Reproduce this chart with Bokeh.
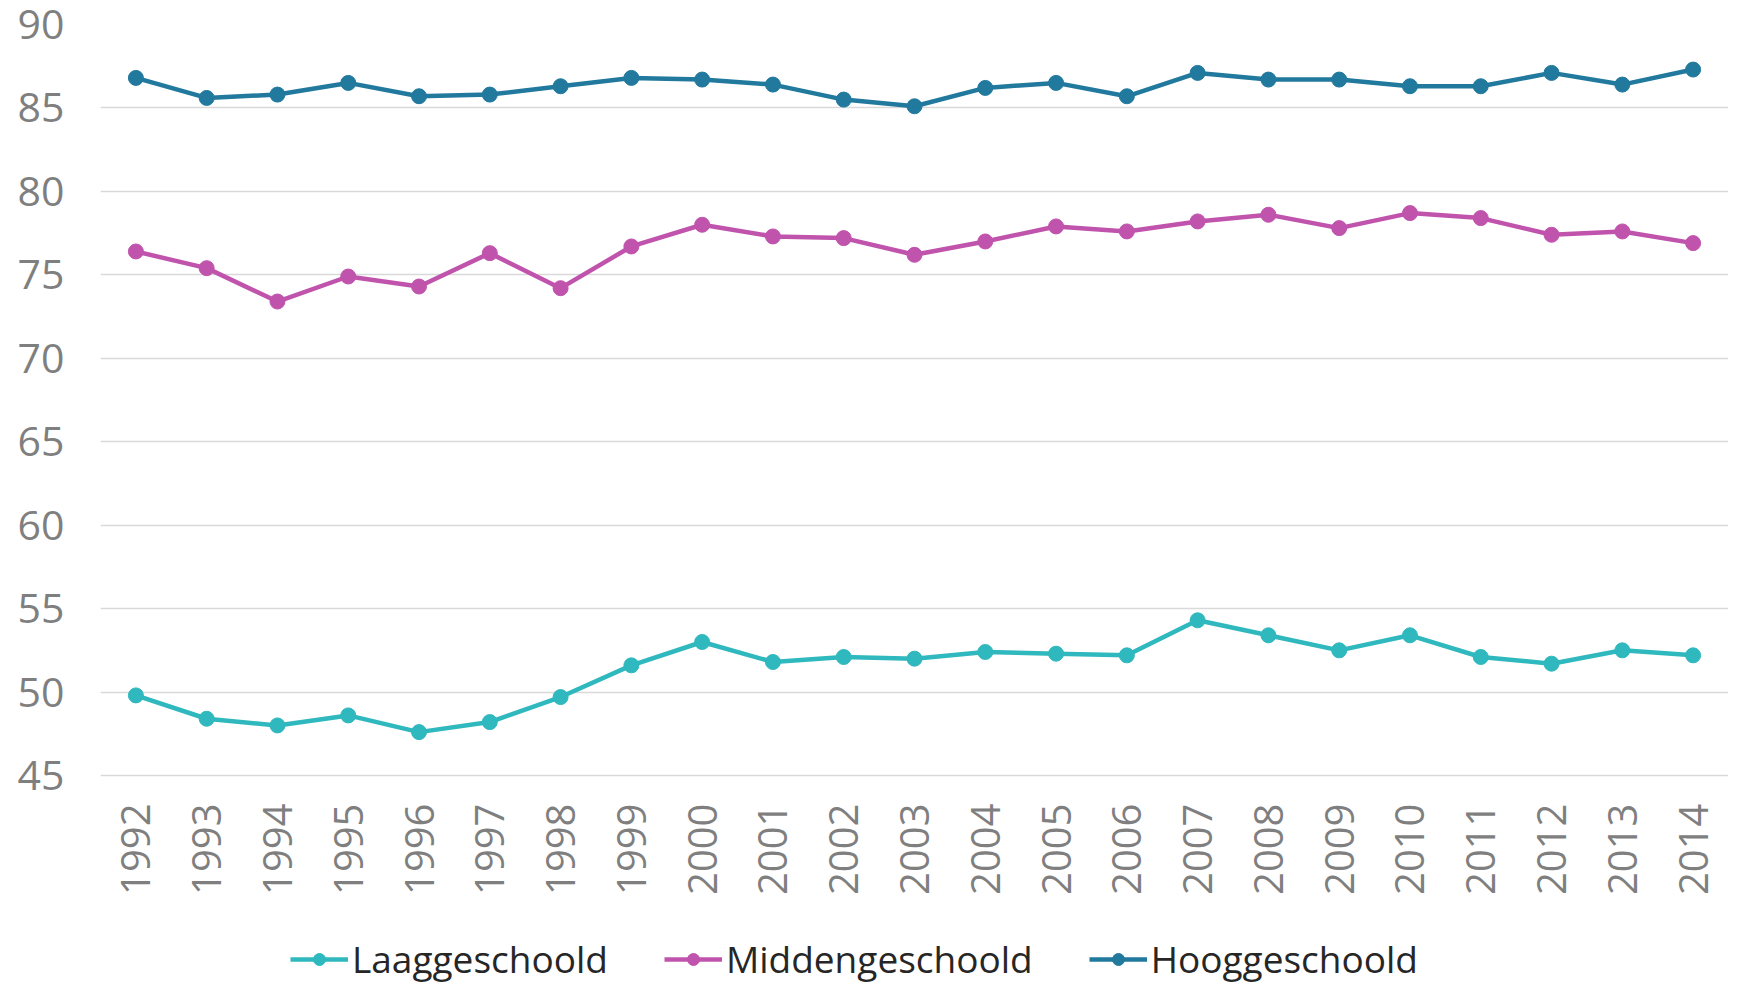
import math
from bokeh.plotting import figure
from bokeh.models import Legend, LegendItem, FixedTicker, Range1d, FactorRange
from bokeh.embed import file_html
from bokeh.resources import INLINE

years = [str(y) for y in range(1992, 2015)]
laag = [49.8, 48.4, 48.0, 48.6, 47.6, 48.2, 49.7, 51.6, 53.0, 51.8, 52.1, 52.0,
        52.4, 52.3, 52.2, 54.3, 53.4, 52.5, 53.4, 52.1, 51.7, 52.5, 52.2]
midden = [76.4, 75.4, 73.4, 74.9, 74.3, 76.3, 74.2, 76.7, 78.0, 77.3, 77.2, 76.2,
          77.0, 77.9, 77.6, 78.2, 78.6, 77.8, 78.7, 78.4, 77.4, 77.6, 76.9]
hoog = [86.8, 85.6, 85.8, 86.5, 85.7, 85.8, 86.3, 86.8, 86.7, 86.4, 85.5, 85.1,
        86.2, 86.5, 85.7, 87.1, 86.7, 86.7, 86.3, 86.3, 87.1, 86.4, 87.3]
series_names = ["Laaggeschoold", "Middengeschoold", "Hooggeschoold"]
colors = ["#2fb8bd", "#c054ad", "#22799e"]
y_ticks = [45, 50, 55, 60, 65, 70, 75, 80, 85, 90]

FONT = "Open Sans"

# layout: the data area (45..90) is 751 px tall; the frame extends below it
# so the year labels and the legend sit inside the figure's frame area
DATA_H = 751
FRAME_H = 964
y_min, y_max = 45, 90
y_bottom = y_min - (FRAME_H - DATA_H) * (y_max - y_min) / DATA_H

p = figure(x_range=FactorRange(*years, range_padding=0), y_range=Range1d(y_bottom, y_max),
           frame_width=1628, frame_height=FRAME_H,
           min_border_left=100, min_border_right=0, min_border_top=24, min_border_bottom=0,
           output_backend="svg", toolbar_location=None, background_fill_color="white",
           border_fill_color="white")
p.outline_line_color = None
p.xgrid.grid_line_color = None
p.ygrid.grid_line_color = "#d9d9d9"
p.ygrid.grid_line_width = 1.5
p.yaxis.ticker = FixedTicker(ticks=y_ticks)
for ax in (p.xaxis, p.yaxis):
    ax.axis_line_color = None
    ax.major_tick_line_color = None
    ax.minor_tick_line_color = None
    ax.major_tick_out = 0
    ax.major_tick_in = 0
    ax.minor_tick_out = 0
    ax.major_label_text_font = FONT
    ax.major_label_text_color = "#7f7f7f"
p.yaxis.major_label_text_font_size = "41px"
p.yaxis.major_label_standoff = 36
p.xaxis.major_label_text_font_size = "40px"
p.xaxis.major_label_orientation = math.pi / 2
p.xaxis.major_label_standoff = 28
p.xaxis.fixed_location = y_min

items = []
for name, vals, col in zip(series_names, [laag, midden, hoog], colors):
    l = p.line(years, vals, line_color=col, line_width=4.5)
    s = p.scatter(years, vals, size=15, fill_color=col, line_color=col)
    items.append(LegendItem(label=name, renderers=[l, s]))

legend = Legend(items=items, orientation="horizontal", location=(190, 4),
                label_text_font=FONT, label_text_font_size="37px",
                label_text_color="#262626", glyph_width=58, glyph_height=30,
                label_height=30, label_standoff=4, spacing=56, padding=0, margin=0,
                border_line_color=None, background_fill_alpha=0)
p.add_layout(legend, "center")

open("out.html", "w").write(file_html(p, INLINE))
